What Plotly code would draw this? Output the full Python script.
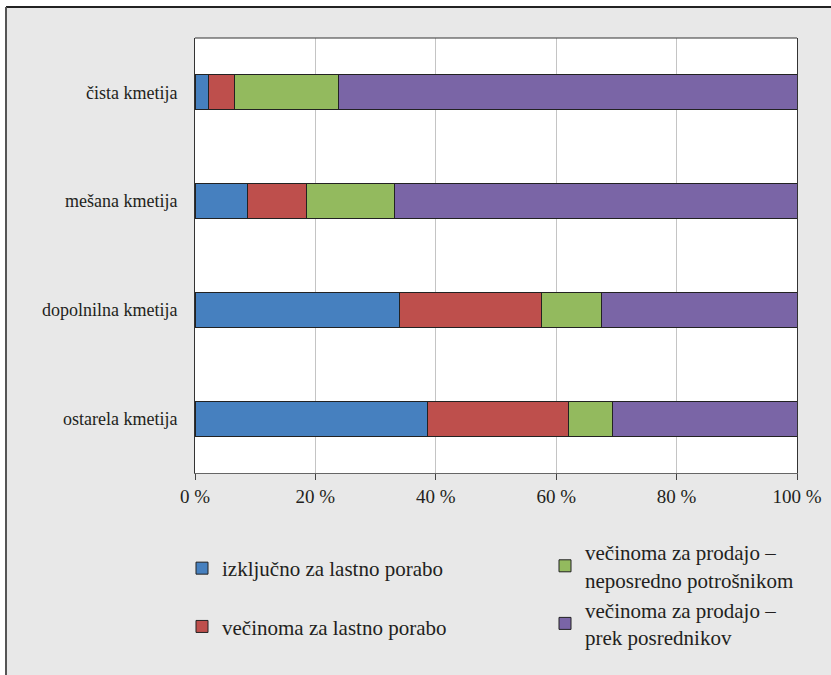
import plotly.graph_objects as go

categories = ["čista kmetija", "mešana kmetija", "dopolnilna kmetija", "ostarela kmetija"]
series_names = [
    "izključno za lastno porabo",
    "večinoma za lastno porabo",
    "večinoma za prodajo –<br>neposredno potrošnikom",
    "večinoma za prodajo –<br>prek posrednikov",
]
izkljucno = [2.3, 8.8, 33.9, 38.7]
vecinoma_lastna = [4.2, 9.8, 23.7, 23.4]
neposredno = [17.3, 14.6, 10.0, 7.3]
posredniki = [76.2, 66.8, 32.4, 30.6]
tick_vals = [0, 20, 40, 60, 80, 100]
tick_text = ["0 %", "20 %", "40 %", "60 %", "80 %", "100 %"]

colors = ["#4680bf", "#be4f4c", "#93ba5e", "#7a65a6"]
legends = ["legend", "legend", "legend2", "legend2"]
values = [izkljucno, vecinoma_lastna, neposredno, posredniki]

FONT = "'Liberation Serif', 'DejaVu Serif', serif"
TXT = "#231f20"

fig = go.Figure()
for name, vals, col, lg in zip(series_names, values, colors, legends):
    fig.add_trace(go.Bar(
        y=categories, x=vals, name=name, orientation="h",
        marker=dict(color=col, line=dict(color="#222222", width=1)),
        width=0.32, legend=lg, legendgroup=name,
    ))

W, H = 831, 675
L, R, T, B = 195, 34, 38, 202
pw, ph = W - L - R, H - T - B

def px(x):
    return (x - L) / pw

def py(y):
    return (H - B - y) / ph

shapes = [
    dict(type="rect", xref="paper", yref="paper", x0=px(-5), x1=px(W + 5), y0=py(7), y1=py(-5),
         fillcolor="white", line=dict(width=0), layer="below"),
    dict(type="rect", xref="paper", yref="paper", x0=px(-5), x1=px(6), y0=py(H + 5), y1=py(-5),
         fillcolor="white", line=dict(width=0), layer="below"),
    dict(type="line", xref="paper", yref="paper", x0=px(6), x1=px(W + 5), y0=py(7), y1=py(7),
         line=dict(color="#222222", width=2)),
    dict(type="line", xref="paper", yref="paper", x0=px(6), x1=px(6), y0=py(7), y1=py(H + 5),
         line=dict(color="#555555", width=2)),
    dict(type="line", xref="paper", yref="paper", x0=0, x1=1, y0=1, y1=1,
         line=dict(color="#333333", width=1)),
]

fig.update_layout(
    width=W, height=H, barmode="stack",
    margin=dict(l=L, r=R, t=T, b=B, pad=0, autoexpand=False),
    paper_bgcolor="#e8e8e8", plot_bgcolor="white",
    font=dict(family=FONT, size=17, color=TXT),
    shapes=shapes,
    legend=dict(x=px(182), y=py(548), xanchor="left", yanchor="top",
                bgcolor="rgba(0,0,0,0)", font=dict(family=FONT, size=21, color=TXT),
                tracegroupgap=28, traceorder="grouped"),
    legend2=dict(x=px(545), y=py(532), xanchor="left", yanchor="top",
                 bgcolor="rgba(0,0,0,0)", font=dict(family=FONT, size=21, color=TXT),
                 tracegroupgap=0, traceorder="grouped"),
)
fig.update_xaxes(
    range=[0, 100], tickvals=tick_vals, ticktext=tick_text,
    showgrid=True, gridcolor="#c4c4c4", gridwidth=1,
    showline=True, linecolor="#666666", linewidth=1, mirror=False,
    ticks="outside", ticklen=6, tickcolor="#444444", automargin=False,
    tickfont=dict(family=FONT, size=19, color=TXT), zeroline=False, fixedrange=True,
)
fig.update_yaxes(
    categoryorder="array", categoryarray=categories, autorange="reversed",
    showline=True, linecolor="#333333", linewidth=1, mirror=True, automargin=False,
    ticks="", ticklabelstandoff=13, showgrid=False,
    tickfont=dict(family=FONT, size=18, color=TXT), fixedrange=True,
)

fig.write_html("out.html", config={"displayModeBar": False},
               post_script="document.body.style.margin='0';")
